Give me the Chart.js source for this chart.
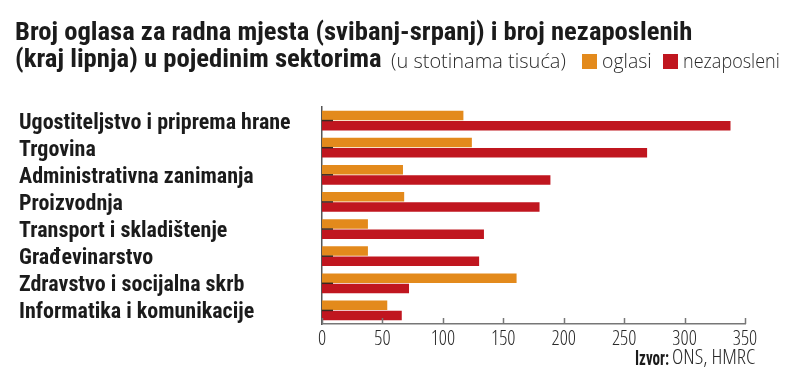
<!DOCTYPE html>
<html>
<head>
<meta charset="utf-8">
<script src="https://cdn.jsdelivr.net/npm/chart.js@4"></script>
<style>
  html, body { margin: 0; padding: 0; background: #fff; }
  #wrap { position: relative; width: 800px; height: 376px; overflow: hidden; }
  #c { position: absolute; left: 0; top: 0; }
  .t { position: absolute; white-space: nowrap; line-height: 1; color: #1b1b1b; transform-origin: 0 0; }
  .b { font-family: "Roboto Condensed", "Open Sans", sans-serif; font-weight: bold; font-size: 26.5px; }
  .l { font-family: "Open Sans", sans-serif; font-weight: 300; font-size: 21px; color: #2a2a2a; }
  .lc { font-family: "Open Sans", sans-serif; font-stretch: condensed; font-weight: 300; font-size: 21px; color: #2a2a2a; }
  .box { position: absolute; width: 15px; height: 15px; }
</style>
</head>
<body>
<div id="wrap">
  <canvas id="c" width="800" height="376"></canvas>
  <div class="t b" data-w="677" style="left:15px; top:17.7px;">Broj oglasa za radna mjesta (svibanj-srpanj) i broj nezaposlenih</div>
  <div class="t b" data-w="367" style="left:15px; top:44.7px;">(kraj lipnja) u pojedinim sektorima</div>
  <div class="t l" data-w="175" style="left:391px; top:49.6px;">(u stotinama tisuća)</div>
  <div class="box" style="left:582px; top:54px; background:#E38A1C;"></div>
  <div class="t l" data-w="50" style="left:602px; top:49.6px;">oglasi</div>
  <div class="box" style="left:663px; top:54px; background:#C0161F;"></div>
  <div class="t l" data-w="97" style="left:683px; top:49.6px;">nezaposleni</div>
  <div class="t b" data-w="34" style="left:635px; top:348.2px; font-size:20px;">Izvor:</div>
  <div class="t lc" data-w="83" style="left:672px; top:346.4px;">ONS, HMRC</div>
</div>
<script>
const categories = [
  "Ugostiteljstvo i priprema hrane",
  "Trgovina",
  "Administrativna zanimanja",
  "Proizvodnja",
  "Transport i skladištenje",
  "Građevinarstvo",
  "Zdravstvo i socijalna skrb",
  "Informatika i komunikacije"
];
const oglasi = [117, 124, 67, 68, 38, 38, 161, 54];
const nezaposleni = [338, 269, 189, 180, 134, 130, 72, 66];
const xTicks = [0, 50, 100, 150, 200, 250, 300, 350];

function fitTexts() {
  document.querySelectorAll('[data-w]').forEach(el => {
    el.style.transform = 'none';
    const w = el.offsetWidth;
    const target = parseFloat(el.dataset.w);
    if (w > 0) el.style.transform = 'scaleX(' + (target / w).toFixed(4) + ')';
  });
}
fitTexts();
if (document.fonts && document.fonts.ready) document.fonts.ready.then(fitTexts);

const innerTicks = {
  id: 'innerTicks',
  afterDatasetsDraw(chart) {
    const ctx = chart.ctx;
    const xs = chart.scales.x, ys = chart.scales.y;
    const area = chart.chartArea;
    ctx.save();
    ctx.strokeStyle = '#777';
    ctx.lineWidth = 1.5;
    xTicks.forEach(v => {
      const px = Math.round(xs.getPixelForValue(v)) + 0.5;
      ctx.beginPath();
      ctx.moveTo(px, area.bottom);
      ctx.lineTo(px, area.bottom - 6);
      ctx.stroke();
    });
    ctx.strokeStyle = '#3a2a22';
    ctx.lineWidth = 1.5;
    ys.ticks.forEach((t, i) => {
      const py = ys.getPixelForTick(i);
      ctx.beginPath();
      ctx.moveTo(area.left, py);
      ctx.lineTo(area.left + 11, py);
      ctx.stroke();
    });
    ctx.restore();
  }
};

new Chart(document.getElementById('c'), {
  type: 'bar',
  data: {
    labels: categories,
    datasets: [
      { label: 'oglasi', data: oglasi, backgroundColor: '#E38A1C', categoryPercentage: 0.75, barPercentage: 0.93 },
      { label: 'nezaposleni', data: nezaposleni, backgroundColor: '#C0161F', categoryPercentage: 0.75, barPercentage: 0.93 }
    ]
  },
  options: {
    indexAxis: 'y',
    responsive: false,
    animation: false,
    layout: { padding: { top: 107, left: 19, right: 55, bottom: 22 } },
    plugins: { legend: { display: false }, title: { display: false }, tooltip: { enabled: false } },
    scales: {
      x: {
        min: 0, max: 350,
        afterBuildTicks(scale) { scale.ticks = xTicks.map(v => ({ value: v })); },
        grid: { display: false, drawTicks: false },
        border: { display: true, color: '#777', width: 1.5 },
        ticks: { font: { family: '"Open Sans", sans-serif', size: 20, weight: '300 condensed' }, color: '#2a2a2a', padding: 3, autoSkip: false, maxRotation: 0 },
        afterFit(scale) { scale.height = 30; }
      },
      y: {
        grid: { display: false, drawTicks: false },
        border: { display: true, color: '#555', width: 1.5 },
        ticks: { font: { family: '"Roboto Condensed", sans-serif', size: 22, weight: 'bold' }, color: '#1b1b1b', crossAlign: 'far', padding: 4, autoSkip: false, labelOffset: 2.5 },
        afterFit(scale) { scale.width = 303; }
      }
    }
  },
  plugins: [innerTicks]
});
</script>
</body>
</html>
